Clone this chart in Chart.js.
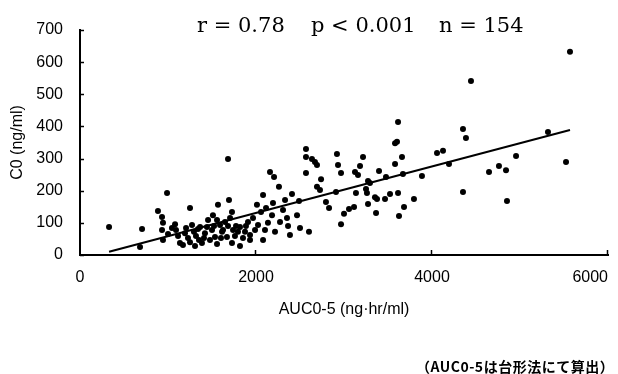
<!DOCTYPE html>
<html>
<head>
<meta charset="utf-8">
<script src="https://cdn.jsdelivr.net/npm/chart.js@4/dist/chart.umd.min.js"></script>
<style>
  html,body{margin:0;padding:0;background:#fff;}
  #wrap{position:relative;width:618px;height:374px;}
  #wrap canvas{position:absolute;left:0;top:0;}
  .stat{position:absolute;top:15px;font-family:"DejaVu Serif",serif;font-size:21px;line-height:21px;color:#000;white-space:pre;}
  #note{position:absolute;left:416px;top:358px;font-family:"Noto Sans CJK JP",sans-serif;font-size:14px;line-height:16px;font-weight:700;letter-spacing:0.5px;color:#000;white-space:pre;}
</style>
</head>
<body>
<div id="wrap">
  <canvas id="ch" width="618" height="374"></canvas>
  <span class="stat" style="left:197px">r = 0.78</span>
  <span class="stat" style="left:311px">p &lt; 0.001</span>
  <span class="stat" style="left:439px">n = 154</span>
  <div id="note">（AUC0-5は台形法にて算出）</div>
</div>
<script>
// ---- datos ----
const aucX=[330,705,682,989,886,932,943,932,1080,1045,
  943,1170,1250,1307,1273,1193,1114,1227,1318,1352,
  1000,1136,1364,1443,1511,1557,1534,1568,1682,1693,
  1625,1670,1739,1818,1818,1932,1966,2011,1420,1477,
  1591,1648,1705,1761,1875,1909,1386,1500,1773,1852,
  1989,1602,1455,1886,1727,1557,2080,2102,2159,2205,
  2261,2193,2182,2136,2216,2364,2409,2330,2466,2489,
  2057,2273,2307,2080,2386,2568,2568,2636,2670,2693,
  2568,2739,2693,2795,2830,2602,2920,2932,2966,2909,
  3000,2966,3057,3114,3125,3159,3182,3216,3136,3250,
  3261,3273,3295,3273,3352,3375,3364,3466,3398,3477,
  3580,3602,3614,3580,3659,3670,3614,3625,3682,3795,
  3523,3886,4057,4125,4193,4352,4352,4386,4648,4761,
  4841,4955,4852,5523,5568,4443,5318,1205,1295,1409,
  1523,1614,1682,1795,1341,1091,1932,2023,2114,2352,
  2500,2727,1250,1727];
const c0Y=[87,81,25,193,137,118,100,78,96,84,
  47,31,146,28,93,68,59,53,59,47,
  65,37,87,87,124,109,56,156,299,171,
  78,56,78,87,28,62,115,156,68,47,
  93,103,115,59,72,103,37,78,90,53,
  78,53,109,90,37,34,187,78,258,243,
  212,162,124,100,72,90,190,171,124,168,
  134,103,140,47,62,330,305,299,289,280,
  255,236,212,165,146,72,314,280,255,196,
  128,96,143,149,258,249,277,305,193,205,
  193,230,224,159,180,174,131,174,261,243,
  348,352,414,283,305,252,193,121,149,174,
  190,246,317,324,283,196,392,364,258,277,
  264,308,168,289,632,541,383,84,72,53,
  90,72,90,72,81,78,47,93,146,115,
  84,202,40,134];
// recta de regresión (extremos)
const regX=[330,5568];
const regY=[10,389];
const xTicks=[0,2000,4000,6000];
const yTicks=[0,100,200,300,400,500,600,700];

const puntos=aucX.map((x,i)=>({x:x,y:c0Y[i]}));
const recta=regX.map((x,i)=>({x:x,y:regY[i]}));

// marcas cortas hacia adentro del área
const marcasInternas={
  id:'marcasInternas',
  afterDraw(chart){
    const ctx=chart.ctx,xs=chart.scales.x,ys=chart.scales.y;
    const x0=xs.getPixelForValue(0),y0=ys.getPixelForValue(0);
    ctx.save();
    ctx.strokeStyle='#000';ctx.lineWidth=1.5;
    yTicks.forEach(v=>{
      const y=Math.round(ys.getPixelForValue(v))+0.5;
      ctx.beginPath();ctx.moveTo(x0,y);ctx.lineTo(x0+4,y);ctx.stroke();
    });
    xTicks.forEach(v=>{
      if(v===0) return;
      const x=Math.round(xs.getPixelForValue(v))-0.5;
      ctx.beginPath();ctx.moveTo(x,y0);ctx.lineTo(x,y0-5);ctx.stroke();
    });
    ctx.restore();
  }
};

const fuente={family:'"Liberation Sans", Arial, sans-serif',size:16};

new Chart(document.getElementById('ch'),{
  type:'scatter',
  data:{datasets:[
    {data:puntos,backgroundColor:'#000',borderColor:'#000',pointRadius:3,pointBorderWidth:0,pointHoverRadius:3},
    {data:recta,showLine:true,borderColor:'#000',borderWidth:2,pointRadius:0,fill:false}
  ]},
  options:{
    responsive:false,animation:false,
    layout:{padding:{left:0,right:10,top:30,bottom:55}},
    plugins:{legend:{display:false},tooltip:{enabled:false}},
    scales:{
      x:{type:'linear',min:0,max:6000,
        afterBuildTicks:s=>{s.ticks=xTicks.map(v=>({value:v}));},
        afterFit:s=>{s.height=64;s.paddingLeft=0;s.paddingRight=0;},
        grid:{display:false,drawTicks:false},
        border:{display:true,color:'#000',width:2},
        // el último rótulo queda dentro del lienzo (como en el original)
        ticks:{color:'#000',font:fuente,padding:13,maxRotation:0,autoSkip:false,
          callback:v=>v===6000?'6000        ':String(v)},
        title:{display:true,text:'AUC0-5 (ng·hr/ml)',color:'#000',font:fuente,padding:{top:0,bottom:0}}
      },
      y:{type:'linear',min:0,max:700,
        afterBuildTicks:s=>{s.ticks=yTicks.map(v=>({value:v}));},
        afterFit:s=>{s.width=80;s.paddingTop=0;s.paddingBottom=0;},
        grid:{display:false,drawTicks:false},
        border:{display:true,color:'#000',width:2},
        ticks:{color:'#000',font:fuente,padding:17,autoSkip:false,callback:v=>String(v)},
        title:{display:true,text:'C0 (ng/ml)',color:'#000',font:fuente,padding:{top:8,bottom:0}}
      }
    }
  },
  plugins:[marcasInternas]
});
</script>
</body>
</html>
